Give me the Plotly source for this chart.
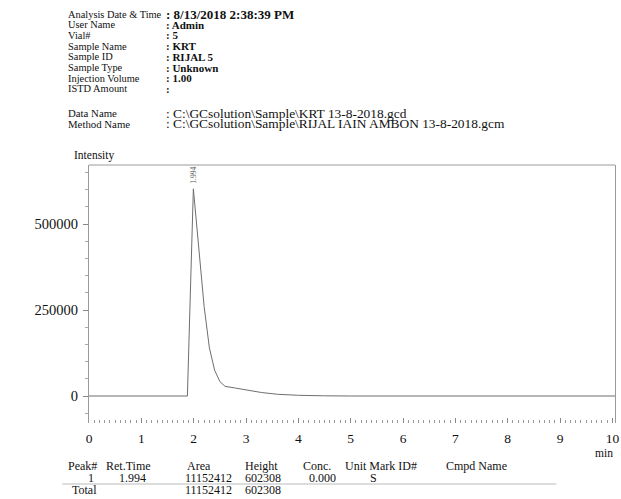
import plotly.graph_objects as go

# ---- data ----
time_min = [0.0, 1.88, 1.994, 2.10, 2.20, 2.30, 2.40, 2.50, 2.60, 2.80, 3.00, 3.30, 3.60, 4.00, 4.50, 5.00, 10.05]
intensity = [0, 0, 602308, 430000, 260000, 140000, 75000, 42000, 28000, 23000, 18000, 10000, 5000, 2000, 500, 0, 0]

x_tick_vals = list(range(0, 11))
y_tick_vals = [0, 250000, 500000]
y_tick_text = ["0", "250000", "500000"]

header_labels = ["Analysis Date & Time", "User Name", "Vial#", "Sample Name", "Sample ID",
                 "Sample Type", "Injection Volume", "ISTD Amount"]
header_values = [": 8/13/2018 2:38:39 PM", ": Admin", ": 5", ": KRT", ": RIJAL 5",
                 ": Unknown", ": 1.00", ":"]
file_labels = ["Data Name", "Method Name"]
file_values = [": C:\\GCsolution\\Sample\\KRT 13-8-2018.gcd",
               ": C:\\GCsolution\\Sample\\RIJAL IAIN AMBON 13-8-2018.gcm"]

peak_no = [1]
ret_time = ["1.994"]
area = ["11152412"]
height = ["602308"]
conc = ["0.000"]
mark = ["S"]
total_area = "11152412"
total_height = "602308"

# ---- layout geometry (pixels) ----
W, H = 621, 499
L, R, T, B = 89, 2, 165, 76
PW, PH = W - L - R, H - T - B

def px(x):
    return (x - L) / PW

def py(y):
    return (H - B - y) / PH

FONT = "Liberation Serif"
TXT = "#111111"

fig = go.Figure()
fig.add_trace(go.Scatter(x=time_min, y=intensity, mode="lines",
                         line=dict(color="#6e6e6e", width=1), hoverinfo="skip"))

ann = []
def text(x, y, s, size=12, anchor="left", color=TXT):
    ann.append(dict(x=px(x), y=py(y), xref="paper", yref="paper", text=s, showarrow=False,
                    xanchor=anchor, yanchor="middle", font=dict(family=FONT, size=size, color=color)))

rows_y = [14, 24.7, 35.4, 46.1, 56.8, 67.5, 78.2, 88.9]
for i, (lab, val, yy) in enumerate(zip(header_labels, header_values, rows_y)):
    text(66, yy, lab, size=10.4)
    if i == 0:
        text(165, yy, "<b>" + val + "</b>", size=13)
    else:
        text(165, yy, "<b>" + val + "</b>", size=11)
for lab, val, yy in zip(file_labels, file_values, [113, 124]):
    text(66, yy, lab, size=10.8)
    text(165, yy, val, size=13.4)
text(72, 156, "Intensity", size=11.5)
text(619, 453, "min", size=11.5, anchor="right")

# peak label
ann.append(dict(x=float(ret_time[0]), y=602308, xref="x", yref="y", text=ret_time[0],
                showarrow=False, textangle=-90, yanchor="bottom", yshift=3,
                font=dict(family=FONT, size=7.5, color="#555")))

# table
TS = 12
text(66, 466, "Peak#", size=TS)
text(104, 466, "Ret.Time", size=TS)
text(186, 466, "Area", size=TS)
text(244, 466, "Height", size=TS)
text(303, 466, "Conc.", size=TS)
text(345, 466, "Unit Mark ID#", size=TS)
text(447, 466, "Cmpd Name", size=TS)
for i in range(len(peak_no)):
    yy = 477.5
    text(96, yy, str(peak_no[i]), size=TS, anchor="right")
    text(148, yy, ret_time[i], size=TS, anchor="right")
    text(235, yy, area[i], size=TS, anchor="right")
    text(284, yy, height[i], size=TS, anchor="right")
    text(340, yy, conc[i], size=TS, anchor="right")
    text(370, yy, mark[i], size=TS)
text(70, 490, "Total", size=TS)
text(235, 490, total_area, size=TS, anchor="right")
text(284, 490, total_height, size=TS, anchor="right")

shapes = [
    dict(type="line", xref="paper", yref="paper", x0=0, x1=1, y0=1, y1=1,
         line=dict(color="#9a9a9a", width=1)),
    dict(type="line", xref="paper", yref="paper", x0=px(62), x1=px(560), y0=py(484), y1=py(484),
         line=dict(color="#bbbbbb", width=1)),
]

fig.update_layout(
    width=W, height=H, margin=dict(l=L, r=R, t=T, b=B),
    paper_bgcolor="white", plot_bgcolor="white", showlegend=False,
    annotations=ann, shapes=shapes,
    xaxis=dict(range=[0, 10.05], tickvals=x_tick_vals, ticks="inside", ticklen=5,
               tickcolor="#888", showline=False, showgrid=False, zeroline=False,
               ticklabeloverflow="allow",
               minor=dict(dtick=0.1, ticks="inside", ticklen=3, tickcolor="#999"),
               tickfont=dict(family=FONT, size=13.5, color=TXT), ticklabelstandoff=5),
    yaxis=dict(range=[-78500, 671500], tickvals=y_tick_vals, ticktext=y_tick_text,
               ticks="outside", ticklen=5, tickcolor="#888", showline=True, mirror=True,
               linecolor="#9a9a9a", linewidth=1, showgrid=False, zeroline=False,
               minor=dict(dtick=50000, ticks="outside", ticklen=3, tickcolor="#aaa"),
               tickfont=dict(family=FONT, size=14.5, color=TXT), ticklabelstandoff=2),
)

fig.write_html("out.html")
